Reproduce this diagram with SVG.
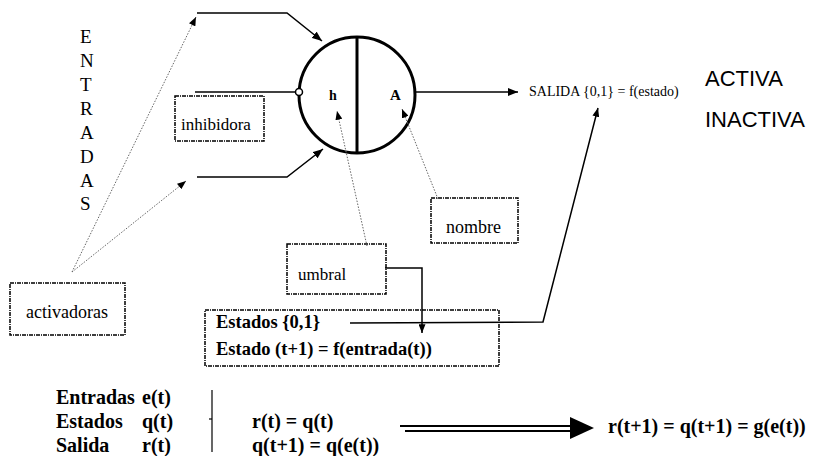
<svg xmlns="http://www.w3.org/2000/svg" width="822" height="456" viewBox="0 0 822 456">
<defs>
<style>
.t{font-family:"Liberation Serif","Times New Roman",serif;fill:#000}
.b{font-weight:bold}
.a{font-family:"Liberation Sans",Arial,sans-serif;fill:#000}
.box{fill:#fff;stroke:#000;stroke-width:1.5;stroke-dasharray:4 1 1 1}
.ln{fill:none;stroke:#000;stroke-width:1.5}
.dot{fill:none;stroke:#666;stroke-width:1;stroke-dasharray:1.5 1.5}
</style>
<marker id="ah" viewBox="0 0 10 8" refX="10" refY="4" markerWidth="10" markerHeight="8" markerUnits="userSpaceOnUse" orient="auto">
<path d="M0,0 L10,4 L0,8 Z" fill="#000"/>
</marker>
<marker id="ahs" viewBox="0 0 10 8" refX="10" refY="4" markerWidth="9" markerHeight="7" markerUnits="userSpaceOnUse" orient="auto">
<path d="M0,0 L10,4 L0,8 Z" fill="#000"/>
</marker>
</defs>
<rect width="822" height="456" fill="#fff"/>

<g id="neuron">
<circle cx="357" cy="95" r="58" fill="#fff" stroke="#000" stroke-width="3"/>
<line x1="357" y1="37" x2="357" y2="153" stroke="#000" stroke-width="3"/>
<circle cx="299" cy="92" r="3.5" fill="#fff" stroke="#000" stroke-width="1.5"/>
<text class="t b" x="329" y="100" font-size="14">h</text>
<text class="t b" x="390" y="100" font-size="15">A</text>
</g>

<g id="entradas" class="t" font-size="19">
<text x="80" y="43">E</text>
<text x="80" y="67">N</text>
<text x="80" y="91">T</text>
<text x="80" y="115">R</text>
<text x="80" y="139">A</text>
<text x="80" y="163">D</text>
<text x="80" y="187">A</text>
<text x="80" y="210">S</text>
</g>

<g id="inhibidora">
<rect class="box" x="175" y="96" width="89" height="45"/>
<text class="t" x="181" y="130" font-size="17">inhibidora</text>
</g>

<g id="activadoras">
<rect class="box" x="10" y="283" width="115" height="52"/>
<text class="t" x="26" y="318" font-size="18">activadoras</text>
</g>

<g id="umbral">
<rect class="box" x="287" y="244" width="99" height="50"/>
<text class="t" x="298" y="280" font-size="17">umbral</text>
</g>

<g id="nombre">
<rect class="box" x="431" y="198" width="87" height="45"/>
<text class="t" x="446" y="233" font-size="18">nombre</text>
</g>

<g id="estados">
<rect class="box" x="205" y="310" width="294" height="56"/>
<text class="t b" x="216" y="328" font-size="18.5">Estados {0,1}</text>
<text class="t b" x="216" y="355" font-size="18.5">Estado (t+1) = f(entrada(t))</text>
</g>

<g id="salida">
<text class="t" x="529" y="96" font-size="14">SALIDA {0,1} = f(estado)</text>
</g>

<g id="estados-salida">
<text class="a" x="705" y="86" font-size="22">ACTIVA</text>
<text class="a" x="705" y="127" font-size="22">INACTIVA</text>
</g>

<g id="formulas" class="t b" font-size="20">
<text x="56" y="404">Entradas</text>
<text x="56" y="428">Estados</text>
<text x="56" y="452">Salida</text>
<text x="142" y="404">e(t)</text>
<text x="142" y="428">q(t)</text>
<text x="142" y="452">r(t)</text>
<text x="252" y="428">r(t) = q(t)</text>
<text x="252" y="452">q(t+1) = q(e(t))</text>
<text x="608" y="433">r(t+1) = q(t+1) = g(e(t))</text>
</g>
<g id="brace">
<line x1="212" y1="390" x2="212" y2="452" stroke="#000" stroke-width="1.2"/>
<line x1="209" y1="419" x2="212" y2="419" stroke="#000" stroke-width="1.2"/>
</g>
<g id="double-arrow">
<line x1="400" y1="426" x2="572" y2="426" stroke="#000" stroke-width="2"/>
<line x1="405" y1="431" x2="572" y2="431" stroke="#000" stroke-width="2"/>
<path d="M570,417 L594,428 L570,439 Z" fill="#000"/>
</g>

<g id="connectors">
<polyline class="ln" points="197,13 287,13 322,41" marker-end="url(#ah)"/>
<polyline class="ln" points="197,177 287,177 323,149" marker-end="url(#ah)"/>
<line class="ln" x1="195" y1="92" x2="295.5" y2="92"/>
<line class="ln" x1="416" y1="92" x2="518" y2="92" marker-end="url(#ah)"/>
<line class="dot" x1="72" y1="272" x2="196" y2="17" marker-end="url(#ahs)"/>
<line class="dot" x1="72" y1="272" x2="186" y2="181" marker-end="url(#ahs)"/>
<line class="dot" x1="367" y1="246" x2="337" y2="111" marker-end="url(#ahs)"/>
<line class="dot" x1="438" y1="199" x2="402" y2="109" marker-end="url(#ahs)"/>
<polyline class="ln" points="385,268 422,268 422,333" marker-end="url(#ahs)"/>
<polyline class="ln" points="350,323 543,322 598,108" marker-end="url(#ahs)"/>
</g>
</svg>
